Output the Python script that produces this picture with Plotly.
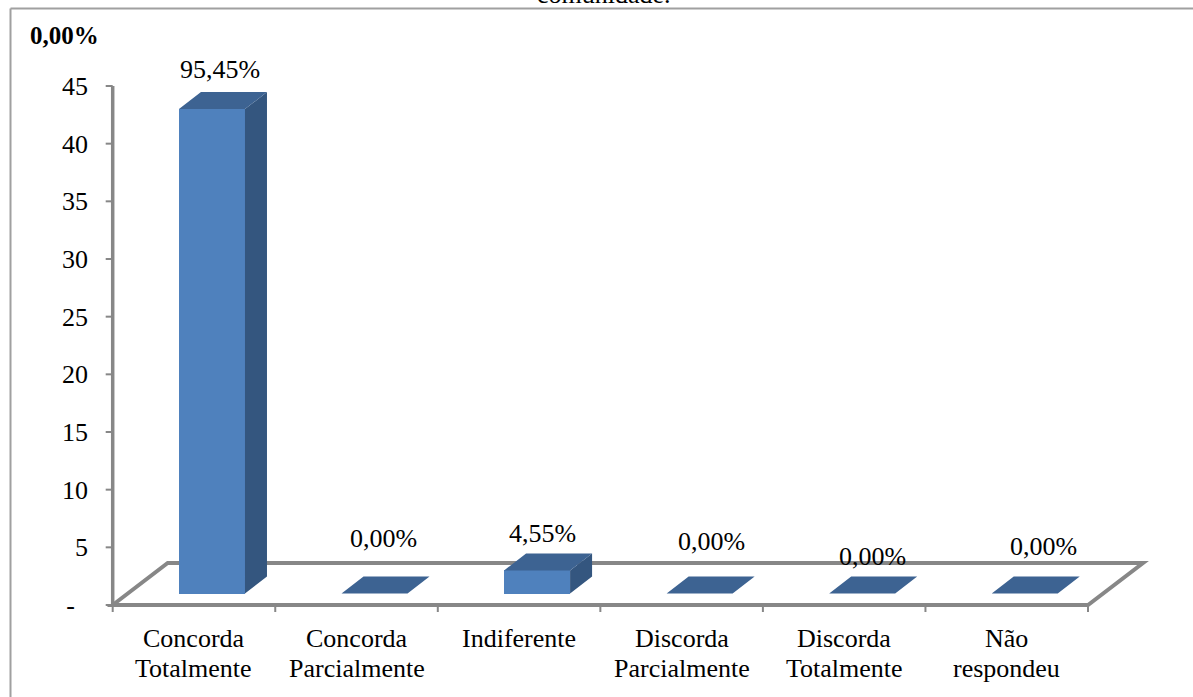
import plotly.graph_objects as go

# ---------------- data ----------------
categories = ["Concorda<br>Totalmente", "Concorda<br>Parcialmente", "Indiferente",
              "Discorda<br>Parcialmente", "Discorda<br>Totalmente", "Não<br>respondeu"]
counts = [42, 0, 2, 0, 0, 0]
pct_labels = ["95,45%", "0,00%", "4,55%", "0,00%", "0,00%", "0,00%"]
y_tickvals = [0, 5, 10, 15, 20, 25, 30, 35, 40, 45]
y_ticktext = ["-\u00a0\u00a0", "5", "10", "15", "20", "25", "30", "35", "40", "45"]
title_text = "comunidade."
corner_text = "0,00%"

# ---------------- geometry / style (pixels) ----------------
W, H = 1193, 697
PX0 = 112.7          # pixel x of front-left floor corner
PY0 = 605.0          # pixel y of value 0 on the front plane
CAT = 162.55         # pixel width of one category
YU = (605.0 - 86.0) / 45.0   # pixels per unit
L, R, T, B = 95, 1165, 40, 630

FLOOR_DX, FLOOR_DY = 55, 42      # depth of the floor (px)
BAR_OFF_X, BAR_OFF_Y = 18, 11.5  # bar front face offset from front plane (px)
BAR_W = 66                       # bar front width (px)
BAR_DX, BAR_DY = 22, 17          # bar depth (px)
LAB_DX = [26, 26.5, 23, 29.5, 28.5, 36.5]   # label shift from front category centre (px)
LAB_DY = [51, 66.5, 48.5, 64, 49, 59]       # label shift above the value (px)

C_FRONT = "#4F81BD"
C_TOP = "#3D6392"
C_SIDE = "#34567F"
C_AXIS = "#878787"
FONT = "Liberation Serif"


def dxu(px):
    return px / CAT


def dyu(px):
    return px / YU


def paper_x(px):
    return (px - L) / (R - L)


def paper_y(py):
    return (B - py) / (B - T)


xrange_ = [-0.5 + (L - PX0) / CAT, -0.5 + (R - PX0) / CAT]
yrange_ = [(PY0 - B) / YU, (PY0 - T) / YU]

n = len(categories)
fig = go.Figure()

# ---- 3D bar faces ----
base = dyu(BAR_OFF_Y)
bw = dxu(BAR_W)
bdx, bdy = dxu(BAR_DX), dyu(BAR_DY)
xs_c = [i + dxu(BAR_OFF_X) for i in range(n)]

side_x, side_y, top_x, top_y = [], [], [], []
for xc, v in zip(xs_c, counts):
    xl, xr = xc - bw / 2, xc + bw / 2
    t = base + v
    top_x += [xl, xr, xr + bdx, xl + bdx, xl, None]
    top_y += [t, t, t + bdy, t + bdy, t, None]
    if v > 0:
        side_x += [xr, xr, xr + bdx, xr + bdx, xr, None]
        side_y += [base, t, t + bdy, base + bdy, base, None]

fig.add_trace(go.Scatter(x=side_x, y=side_y, mode="lines", fill="toself",
                         fillcolor=C_SIDE, line=dict(width=0, color=C_SIDE),
                         hoverinfo="skip", showlegend=False))
fig.add_trace(go.Scatter(x=top_x, y=top_y, mode="lines", fill="toself",
                         fillcolor=C_TOP, line=dict(width=0, color=C_TOP),
                         hoverinfo="skip", showlegend=False))
fig.add_trace(go.Bar(x=xs_c, y=counts, base=base, width=bw,
                     marker=dict(color=C_FRONT, line=dict(width=0)),
                     hoverinfo="skip", showlegend=False))

# ---- floor, axis line, ticks ----
fdx, fdy = dxu(FLOOR_DX), dyu(FLOOR_DY)
x_left, x_right = -0.5, n - 0.5
shapes = [
    dict(type="path", xref="x", yref="y", layer="below",
         path=f"M {x_left},0 L {x_left + fdx},{fdy} L {x_right + fdx},{fdy} L {x_right},0 Z",
         line=dict(color=C_AXIS, width=4)),
    dict(type="line", xref="x", yref="y", layer="below",
         x0=x_left, y0=0, x1=x_left, y1=max(y_tickvals),
         line=dict(color=C_AXIS, width=3.5)),
]
for v in y_tickvals:
    shapes.append(dict(type="line", xref="x", yref="y", layer="below",
                       x0=x_left - dxu(7), x1=x_left, y0=v, y1=v,
                       line=dict(color=C_AXIS, width=2)))
for i in range(n + 1):
    b = -0.5 + i
    shapes.append(dict(type="line", xref="x", yref="y", layer="below",
                       x0=b, x1=b, y0=0, y1=-dyu(7),
                       line=dict(color=C_AXIS, width=2)))
# chart border (top and left)
shapes.append(dict(type="line", xref="paper", yref="paper",
                   x0=paper_x(10.5), x1=paper_x(W + 5), y0=paper_y(8.5), y1=paper_y(8.5),
                   line=dict(color="#A0A0A0", width=2)))
shapes.append(dict(type="line", xref="paper", yref="paper",
                   x0=paper_x(10.5), x1=paper_x(10.5), y0=paper_y(8.5), y1=paper_y(H + 5),
                   line=dict(color="#A0A0A0", width=2)))

# ---- annotations ----
ann = []
for i, (v, lab) in enumerate(zip(counts, pct_labels)):
    ann.append(dict(x=i, y=v, xref="x", yref="y", text=lab, showarrow=False,
                    xanchor="center", yanchor="middle",
                    xshift=LAB_DX[i], yshift=LAB_DY[i],
                    font=dict(family=FONT, size=26, color="black")))
for i, cat in enumerate(categories):
    lines = cat.split("<br>")
    for j, ln in enumerate(lines):
        ann.append(dict(x=i, y=0, xref="x", yref="y", text=ln, showarrow=False,
                        xanchor="center", yanchor="middle",
                        yshift=-(33 + 30 * j),
                        font=dict(family=FONT, size=26, color="black")))
ann.append(dict(x=paper_x(64), y=paper_y(35), xref="paper", yref="paper",
                text=f"<b>{corner_text}</b>", showarrow=False,
                xanchor="center", yanchor="middle",
                font=dict(family=FONT, size=25, color="black")))
ann.append(dict(x=paper_x(604), y=paper_y(-5), xref="paper", yref="paper",
                text=title_text, showarrow=False,
                xanchor="center", yanchor="middle",
                font=dict(family=FONT, size=26, color="black")))

fig.update_layout(
    width=W, height=H,
    margin=dict(l=L, r=W - R, t=T, b=H - B, pad=0),
    paper_bgcolor="white", plot_bgcolor="white",
    shapes=shapes, annotations=ann,
    showlegend=False,
    bargap=0,
    xaxis=dict(range=xrange_, showgrid=False, zeroline=False, showline=False,
               showticklabels=False, ticks="", fixedrange=True),
    yaxis=dict(range=yrange_, showgrid=False, zeroline=False, showline=False,
               tickmode="array", tickvals=y_tickvals, ticktext=y_ticktext,
               ticks="", ticklabelstandoff=6,
               tickfont=dict(family=FONT, size=26, color="black"), fixedrange=True),
)

fig.write_html("out.html")
